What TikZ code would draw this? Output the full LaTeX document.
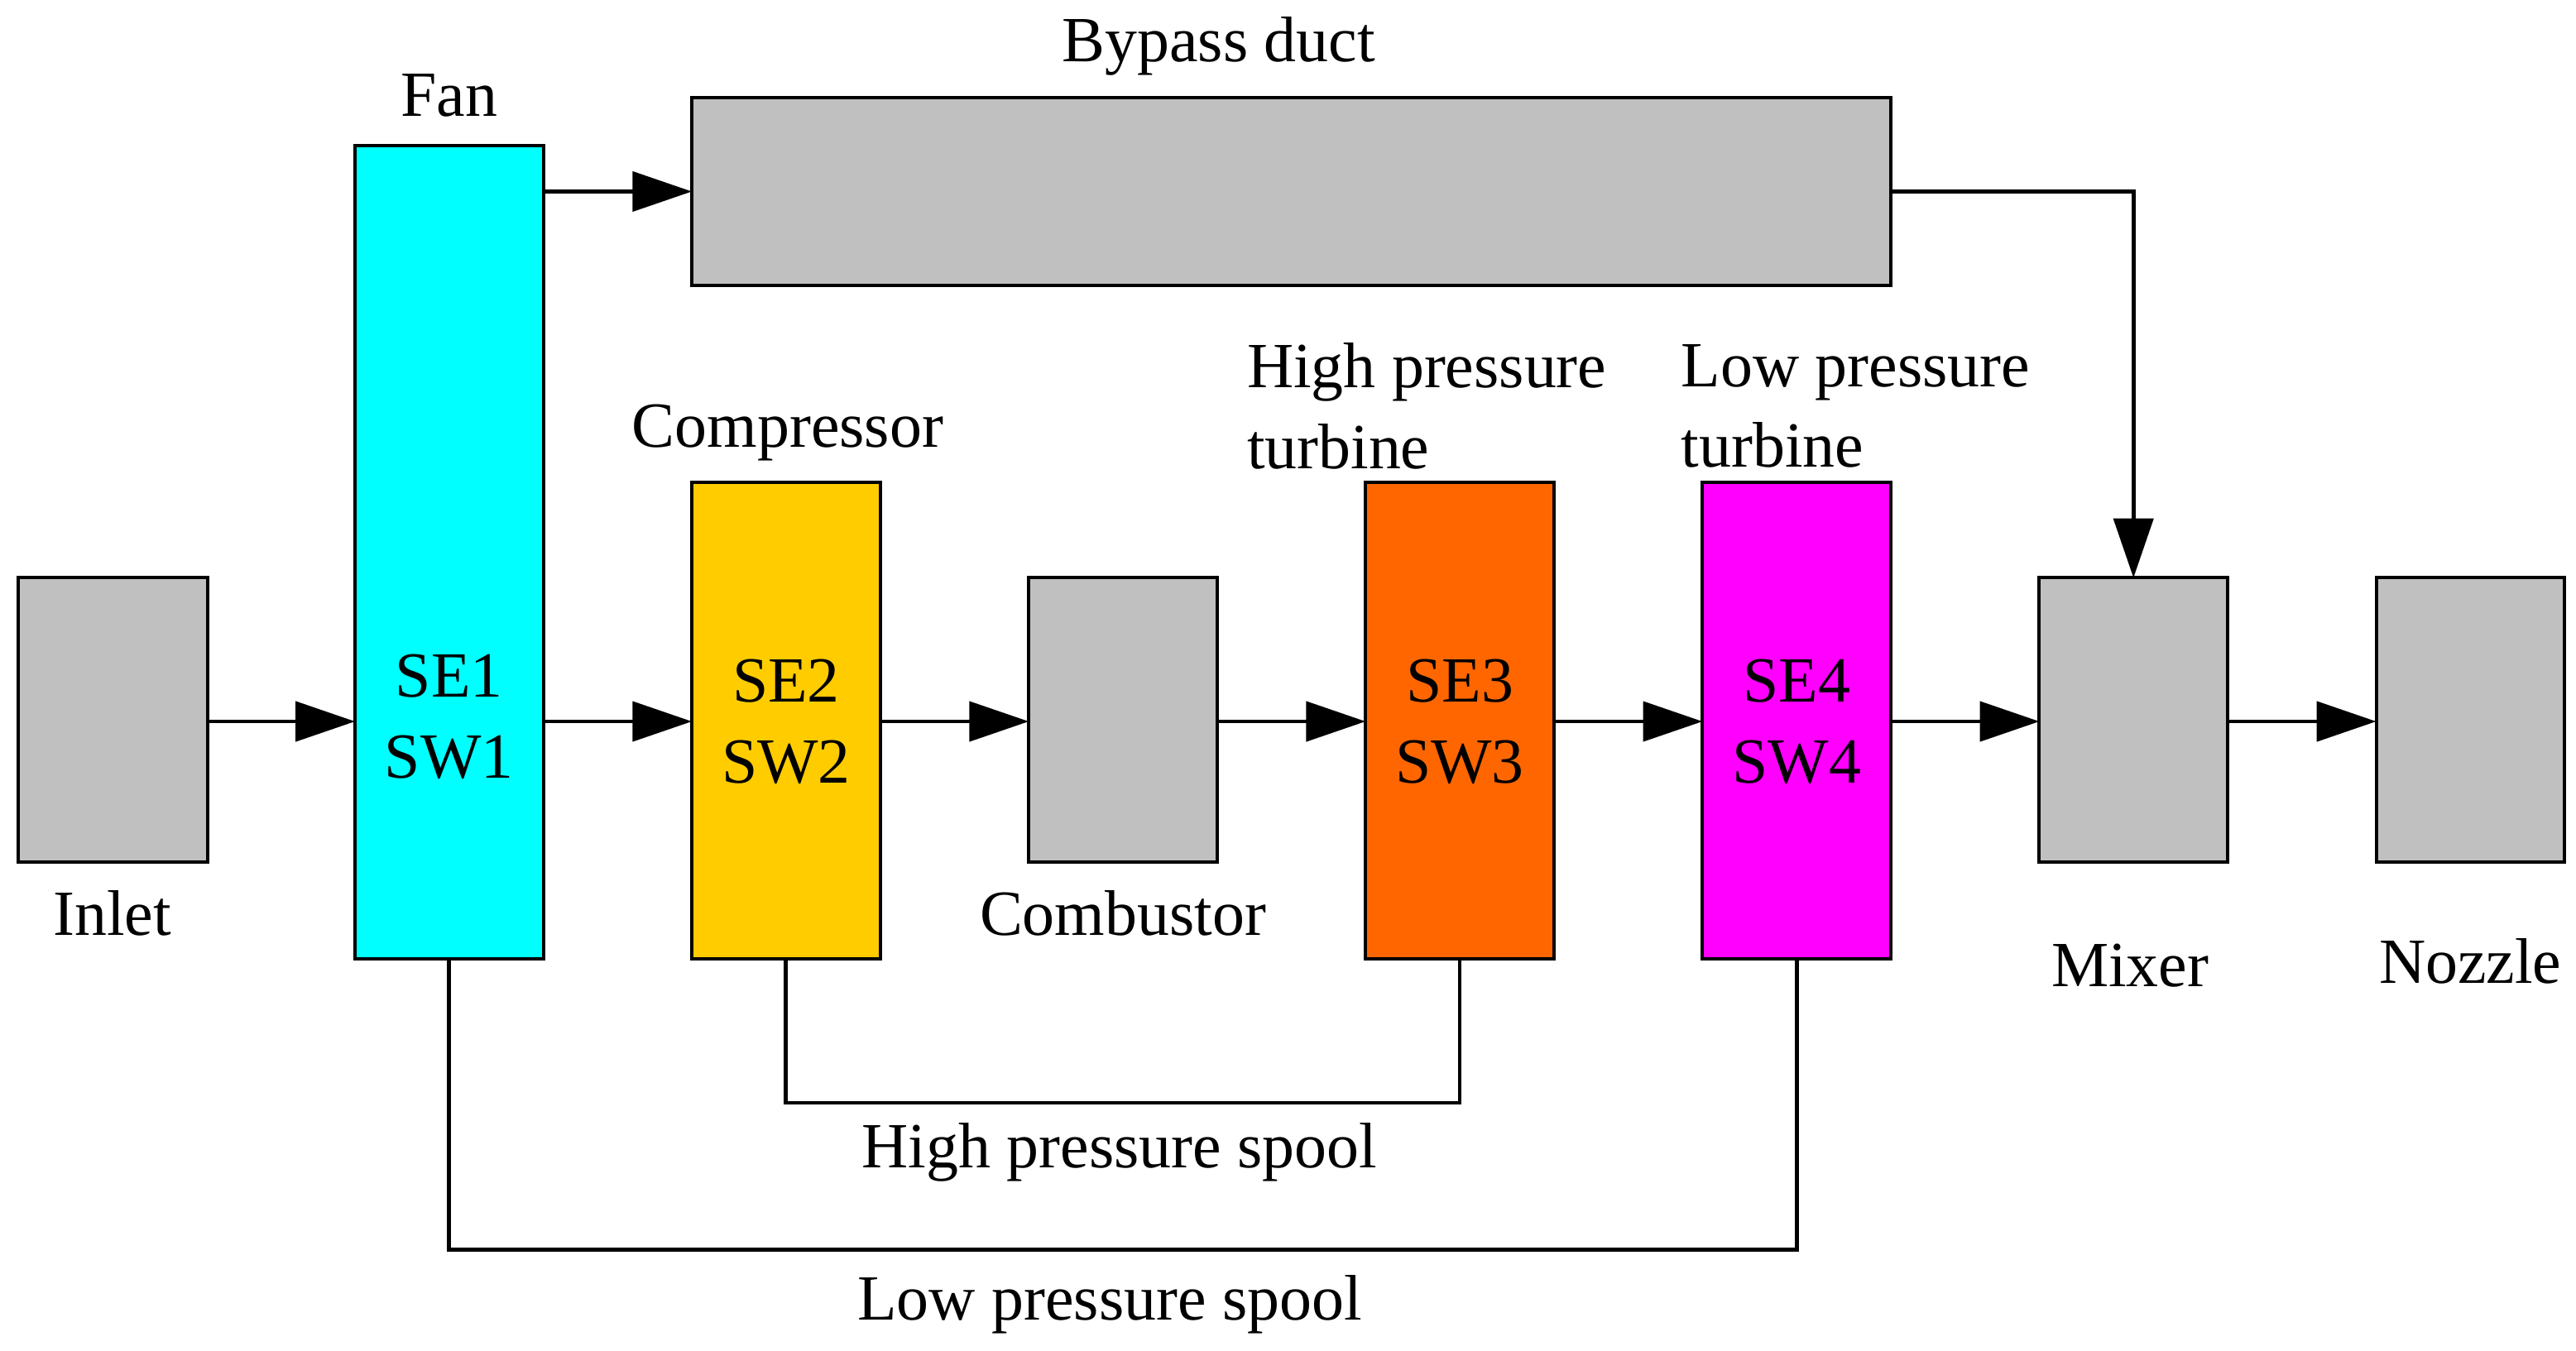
\documentclass[tikz,border=0pt]{standalone}
\usepackage{fontspec}
\setmainfont{Liberation Serif}
\usetikzlibrary{arrows.meta,positioning}
\definecolor{cfan}{RGB}{0,255,255}
\definecolor{ccomp}{RGB}{255,204,0}
\definecolor{chpt}{RGB}{255,102,0}
\definecolor{clpt}{RGB}{255,0,255}
\definecolor{cgray}{RGB}{192,192,192}
\begin{document}
\begin{tikzpicture}[x=1pt,y=-1pt,line width=2.4pt,
  box/.style={draw=black,line width=2pt,inner sep=0pt,outer sep=0pt,align=center,font=\fontsize{39}{49}\selectfont},
  lbl/.style={inner sep=0pt,font=\fontsize{39}{49}\selectfont},
  arr/.style={-{Triangle[length=36pt,width=24pt]}}]
\useasboundingbox (0,0) rectangle (1560,818);
\def\bx#1#2#3#4#5#6{\node[box,fill=#6,minimum width=#4-#2-2,minimum height=#5-#3-2] (#1) at ({(#2+#4)/2},{(#3+#5)/2}) {};}
\bx{inlet}{10}{349}{127}{523}{cgray}
\bx{fan}{214}{87}{330}{582}{cfan}
\bx{bypass}{418}{58}{1146}{174}{cgray}
\bx{comp}{418}{291}{534}{582}{ccomp}
\bx{comb}{622}{349}{738}{523}{cgray}
\bx{hpt}{826}{291}{942}{582}{chpt}
\bx{lpt}{1030}{291}{1146}{582}{clpt}
\bx{mixer}{1234}{349}{1350}{523}{cgray}
\bx{nozzle}{1438}{349}{1554}{523}{cgray}
\node[lbl,align=center] (t1) at (272,434) {SE1\\SW1};
\node[lbl,align=center] (t2) at (476,437) {SE2\\SW2};
\node[lbl,align=center] (t3) at (884,437) {SE3\\SW3};
\node[lbl,align=center] (t4) at (1088,437) {SE4\\SW4};
\node[lbl] (l1) at (68,553) {Inlet};
\node[lbl] (l2) at (272,58) {Fan};
\node[lbl] (l3) at (738,28) {Bypass duct};
\node[lbl] (l4) at (477,262) {Compressor};
\node[lbl] (l5) at (680,553) {Combustor};
\node[lbl,anchor=west,align=left] (l6) at (754,246) {High pressure\\turbine};
\node[lbl,anchor=west,align=left] (l7) at (1017,246) {Low pressure\\turbine};
\node[lbl] (l8) at (1290,585) {Mixer};
\node[lbl] (l9) at (1496,582) {Nozzle};
\node[lbl] (l10) at (678,698) {High pressure spool};
\node[lbl] (l11) at (672,790) {Low pressure spool};
\draw[arr] (inlet.east |- 0,437) -- (fan.west |- 0,437);
\draw[arr] (fan.east |- 0,437) -- (comp.west |- 0,437);
\draw[arr] (comp.east |- 0,437) -- (comb.west |- 0,437);
\draw[arr] (comb.east |- 0,437) -- (hpt.west |- 0,437);
\draw[arr] (hpt.east |- 0,437) -- (lpt.west |- 0,437);
\draw[arr] (lpt.east |- 0,437) -- (mixer.west |- 0,437);
\draw[arr] (mixer.east |- 0,437) -- (nozzle.west |- 0,437);
\draw[arr] (fan.east |- 0,116) -- (bypass.west |- 0,116);
\draw[arr] (bypass.east |- 0,116) -- (1292,116) -- (1292,0 |- mixer.north);
\draw (comp.south) -- (comp.south |- 0,668) -- (hpt.south |- 0,668) -- (hpt.south);
\draw (fan.south) -- (fan.south |- 0,757) -- (lpt.south |- 0,757) -- (lpt.south);
\end{tikzpicture}
\end{document}
